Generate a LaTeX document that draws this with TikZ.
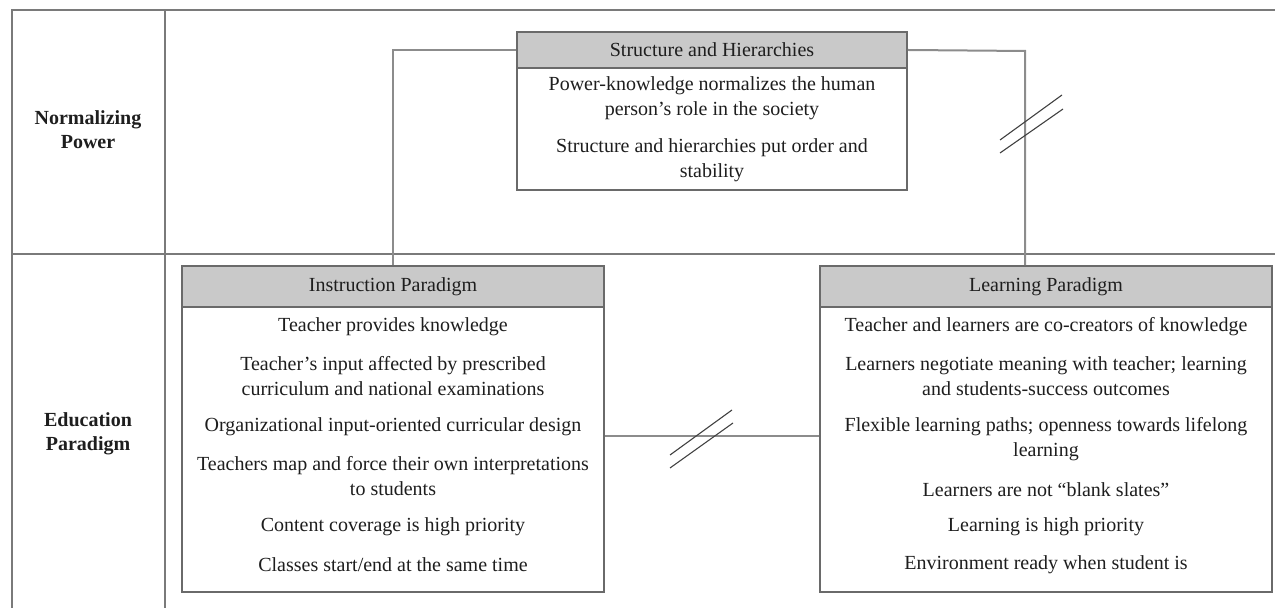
\documentclass[tikz,border=0pt]{standalone}
\usepackage{fontspec}
\setmainfont{Liberation Serif}
\usetikzlibrary{calc}
\definecolor{rulegray}{HTML}{7A7A7A}
\definecolor{boxgray}{HTML}{6A6A6A}
\definecolor{headfill}{HTML}{C9C9C9}
\definecolor{linkgray}{HTML}{8C8C8C}
\definecolor{inkdark}{HTML}{1E1E1E}
\begin{document}
\begin{tikzpicture}[x=0.5pt,y=-0.5pt,
  frame/.style={draw=rulegray,line width=1pt},
  panel/.style={draw=boxgray,line width=0.9pt,fill=white,inner sep=0pt},
  head/.style={draw=boxgray,line width=0.9pt,fill=headfill,inner sep=0pt,
    text=inkdark,font=\fontsize{10}{12.5}\selectfont},
  body/.style={inner sep=0pt,align=center,text=inkdark,font=\fontsize{10}{12.5}\selectfont},
  rowlabel/.style={inner sep=0pt,align=center,text=inkdark,font=\fontsize{10}{12}\selectfont\bfseries},
  link/.style={draw=linkgray,line width=1pt},
  cut/.style={draw=inkdark!85,line width=0.55pt}]
\useasboundingbox (0,0) rectangle (1275,608);

% table grid
\draw[frame] (12,608) -- (12,10) -- (1275,10);
\draw[frame] (165,10) -- (165,608);
\draw[frame] (12,254) -- (1275,254);

% row labels
\node[rowlabel] (rnp) at (88,130) {Normalizing\\Power};
\node[rowlabel] (rep) at (88,434) {Education\\Paradigm};

% connector coordinates
\coordinate (rtop) at (1025,51);

% panels
\node[panel,minimum width=195pt,minimum height=79pt] (sb) at (712,111) {};
\node[head,anchor=north,minimum width=195pt,minimum height=18pt] (sh) at (sb.north) {Structure and Hierarchies};

\node[panel,minimum width=211pt,minimum height=163pt] (ib) at (393,429) {};
\node[head,anchor=north,minimum width=211pt,minimum height=20.5pt] (ih) at (ib.north) {Instruction Paradigm};

\node[panel,minimum width=226pt,minimum height=163pt] (lb) at (1046,429) {};
\node[head,anchor=north,minimum width=226pt,minimum height=20.5pt] (lh) at (lb.north) {Learning Paradigm};

% links between panels
\draw[link] (sh.west) -| (ih.north);
\draw[link] (sh.east) -- (rtop) -- (rtop |- lh.north);
\draw[link] ([yshift=-3.5pt]ib.east) -- ([yshift=-3.5pt]lb.west);

% break marks
\draw[cut] (1000,140) -- (1062,95);
\draw[cut] (1000,153) -- (1063,109);
\draw[cut] (670,455) -- (732,410);
\draw[cut] (670,468) -- (733,423);

% Structure and Hierarchies
\node[body] (s1) at (712,98) {Power-knowledge normalizes the human\\person’s role in the society};
\node[body] (s2) at (712,160) {Structure and hierarchies put order and\\stability};

% Instruction Paradigm
\node[body] (i1) at (393,327) {Teacher provides knowledge};
\node[body] (i2) at (393,376) {Teacher’s input affected by prescribed\\curriculum and national examinations};
\node[body] (i3) at (393,427) {Organizational input-oriented curricular design};
\node[body] (i4) at (393,476) {Teachers map and force their own interpretations\\to students};
\node[body] (i5) at (393,527) {Content coverage is high priority};
\node[body] (i6) at (393,565) {Classes start/end at the same time};

% Learning Paradigm
\node[body] (l1) at (1046,327) {Teacher and learners are co-creators of knowledge};
\node[body] (l2) at (1046,376) {Learners negotiate meaning with teacher; learning\\and students-success outcomes};
\node[body] (l3) at (1046,439) {Flexible learning paths; openness towards lifelong\\learning};
\node[body] (l4) at (1046,490) {Learners are not “blank slates”};
\node[body] (l5) at (1046,527) {Learning is high priority};
\node[body] (l6) at (1046,565) {Environment ready when student is};
\end{tikzpicture}
\end{document}
